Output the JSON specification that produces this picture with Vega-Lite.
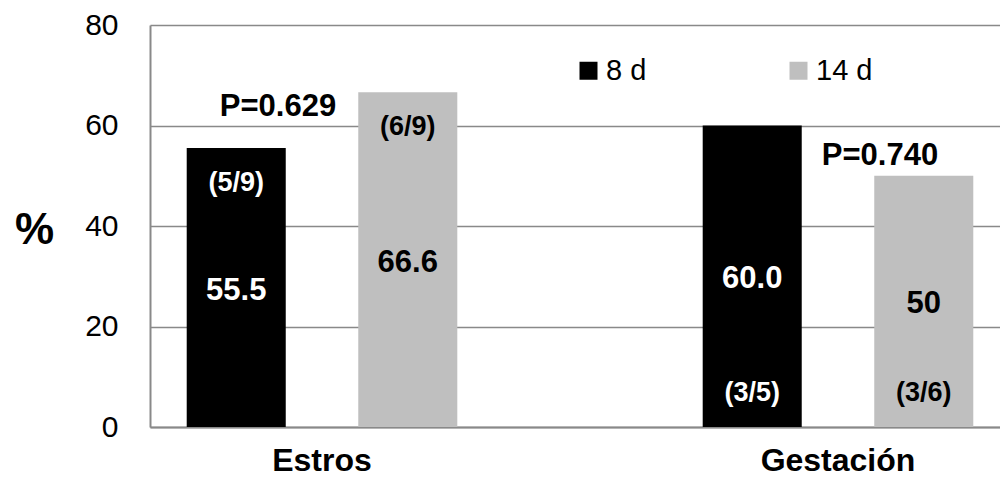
{
  "$schema": "https://vega.github.io/schema/vega-lite/v6.json",
  "width": 850,
  "height": 402,
  "autosize": {"type": "none"},
  "padding": {"left": 150, "top": 25, "right": 0, "bottom": 54},
  "background": "white",
  "config": {"font": "Liberation Sans", "view": {"stroke": null}},
  "datasets": {
    "barras": [
      {"categoria": "Estros", "grupo": "8 d", "pct": 55.5, "etiqueta": "55.5", "fraccion": "(5/9)"},
      {"categoria": "Estros", "grupo": "14 d", "pct": 66.6, "etiqueta": "66.6", "fraccion": "(6/9)"},
      {"categoria": "Gestación", "grupo": "8 d", "pct": 60.0, "etiqueta": "60.0", "fraccion": "(3/5)"},
      {"categoria": "Gestación", "grupo": "14 d", "pct": 50, "etiqueta": "50", "fraccion": "(3/6)"}
    ],
    "pvalores": [
      {"categoria": "Estros", "texto": "P=0.629"},
      {"categoria": "Gestación", "texto": "P=0.740"}
    ]
  },
  "layer": [
    {
      "data": {"name": "barras"},
      "mark": {"type": "bar"},
      "encoding": {
        "x": {
          "field": "categoria", "type": "nominal", "sort": ["Estros", "Gestación"],
          "scale": {"range": [0, 860], "paddingInner": 0.3333, "paddingOuter": 0},
          "axis": {
            "title": null, "labelAngle": 0, "labelFontSize": 32, "labelFontWeight": "bold",
            "labelColor": "black", "ticks": false, "domainColor": "#898989", "domainWidth": 2,
            "labelPadding": 18
          }
        },
        "xOffset": {
          "field": "grupo", "type": "nominal", "sort": ["8 d", "14 d"],
          "scale": {"paddingInner": 0.4227, "paddingOuter": 0.214}
        },
        "y": {
          "field": "pct", "type": "quantitative",
          "scale": {"domain": [0, 80], "nice": false},
          "axis": {
            "values": [0, 20, 40, 60, 80], "grid": true, "gridColor": "#898989", "gridWidth": 1.5,
            "ticks": false, "domainColor": "#898989", "domainWidth": 2,
            "labelFontSize": 30, "labelColor": "black", "labelPadding": 32,
            "title": "%", "titleAngle": 0, "titleFontSize": 44, "titleFontWeight": "bold",
            "titleColor": "black", "titleX": -116, "titleY": 205, "titleAlign": "center",
            "titleBaseline": "middle"
          }
        },
        "color": {
          "field": "grupo", "type": "nominal", "sort": ["8 d", "14 d"],
          "scale": {"domain": ["8 d", "14 d"], "range": ["#000000", "#BFBFBF"]},
          "legend": {
            "title": null, "orient": "none", "legendX": 424, "legendY": 31,
            "direction": "horizontal", "symbolType": "square", "symbolSize": 324,
            "symbolStrokeWidth": 0, "labelFontSize": 29, "labelColor": "black",
            "columnPadding": 137, "padding": 0, "labelOffset": 3
          }
        }
      }
    },
    {
      "data": {"name": "barras"},
      "transform": [{"calculate": "datum.pct / 2", "as": "mitad"}],
      "mark": {"type": "text", "fontSize": 31, "fontWeight": "bold", "baseline": "middle", "dy": 3},
      "encoding": {
        "x": {"field": "categoria", "type": "nominal", "sort": ["Estros", "Gestación"]},
        "xOffset": {"field": "grupo", "type": "nominal", "sort": ["8 d", "14 d"]},
        "y": {"field": "mitad", "type": "quantitative"},
        "text": {"field": "etiqueta"},
        "fill": {"condition": {"test": "datum.grupo === '8 d'", "value": "white"}, "value": "black"}
      }
    },
    {
      "data": {"name": "barras"},
      "transform": [{"filter": "datum.categoria === 'Estros'"}],
      "mark": {"type": "text", "fontSize": 27, "fontWeight": "bold", "baseline": "middle", "dy": 35},
      "encoding": {
        "x": {"field": "categoria", "type": "nominal", "sort": ["Estros", "Gestación"]},
        "xOffset": {"field": "grupo", "type": "nominal", "sort": ["8 d", "14 d"]},
        "y": {"field": "pct", "type": "quantitative"},
        "text": {"field": "fraccion"},
        "fill": {"condition": {"test": "datum.grupo === '8 d'", "value": "white"}, "value": "black"}
      }
    },
    {
      "data": {"name": "barras"},
      "transform": [{"filter": "datum.categoria === 'Gestación'"}],
      "mark": {"type": "text", "fontSize": 27, "fontWeight": "bold", "baseline": "middle", "dy": -34},
      "encoding": {
        "x": {"field": "categoria", "type": "nominal", "sort": ["Estros", "Gestación"]},
        "xOffset": {"field": "grupo", "type": "nominal", "sort": ["8 d", "14 d"]},
        "y": {"datum": 0, "type": "quantitative"},
        "text": {"field": "fraccion"},
        "fill": {"condition": {"test": "datum.grupo === '8 d'", "value": "white"}, "value": "black"}
      }
    },
    {
      "data": {"name": "pvalores"},
      "transform": [{"filter": "datum.categoria === 'Estros'"}],
      "mark": {"type": "text", "fontSize": 31, "fontWeight": "bold", "baseline": "middle", "dx": -44, "color": "black"},
      "encoding": {
        "x": {"field": "categoria", "type": "nominal", "sort": ["Estros", "Gestación"]},
        "y": {"datum": 63.7, "type": "quantitative"},
        "text": {"field": "texto"}
      }
    },
    {
      "data": {"name": "pvalores"},
      "transform": [{"filter": "datum.categoria === 'Gestación'"}],
      "mark": {"type": "text", "fontSize": 31, "fontWeight": "bold", "baseline": "middle", "dx": 42, "color": "black"},
      "encoding": {
        "x": {"field": "categoria", "type": "nominal", "sort": ["Estros", "Gestación"]},
        "y": {"datum": 54, "type": "quantitative"},
        "text": {"field": "texto"}
      }
    }
  ]
}
